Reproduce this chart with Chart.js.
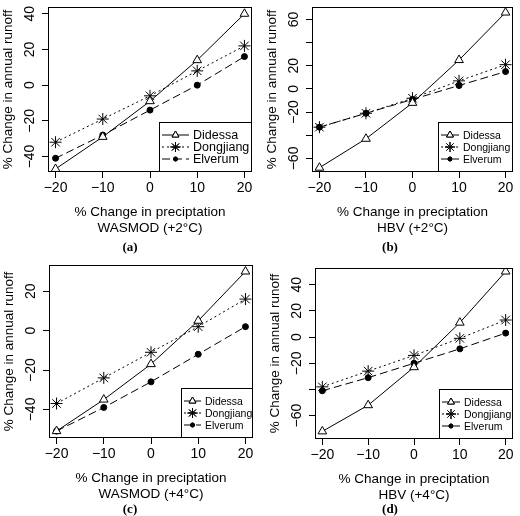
<!DOCTYPE html>
<html><head><meta charset="utf-8">
<script src="https://cdn.jsdelivr.net/npm/chart.js@4"></script>
<style>
body{margin:0;background:#fff;width:520px;height:516px;position:relative;overflow:hidden}
.p{position:absolute;width:260px;height:258px}
.lab{position:absolute;width:260px;text-align:center;font:bold 13px "Liberation Serif",serif}
</style></head><body>
<div class="p" style="left:0;top:0"><canvas id="ca" width="260" height="258"></canvas></div>
<div class="p" style="left:260px;top:0"><canvas id="cb" width="260" height="258"></canvas></div>
<div class="p" style="left:0;top:258px"><canvas id="cc" width="260" height="258"></canvas></div>
<div class="p" style="left:260px;top:258px"><canvas id="cd" width="260" height="258"></canvas></div>
<div class="lab" style="left:0;top:239px">(a)</div>
<div class="lab" style="left:260px;top:239px">(b)</div>
<div class="lab" style="left:0;top:501px">(c)</div>
<div class="lab" style="left:260px;top:501px">(d)</div>
<script>
const precip = [-20, -10, 0, 10, 20];
const seriesNames = ["Didessa", "Dongjiang", "Elverum"];
// (a) WASMOD +2°C
const didessaA = [-47, -29, -9, 14, 40];
const dongjiangA = [-32, -19, -6, 8, 22];
const elverumA = [-41, -28, -14, 0, 16];
// (b) HBV +2°C
const didessaB = [-68, -43, -12, 25, 66];
const dongjiangB = [-33, -21, -8, 7, 21];
const elverumB = [-33, -21, -9, 3, 15];
// (c) WASMOD +4°C
const didessaC = [-51, -35, -17, 5, 30];
const dongjiangC = [-37, -24, -11, 2, 16];
const elverumC = [-51, -39, -26, -12, 2];
// (d) HBV +4°C
const didessaD = [-72, -52, -23, 11, 50];
const dongjiangD = [-38, -26, -14, -1, 13];
const elverumD = [-41, -31, -20, -9, 3];
const yTicksA = [-40, -20, 0, 20, 40], yLabelsA = [-40, -20, 0, 20, 40];
const yTicksB = [-60, -40, -20, 0, 20, 40, 60], yLabelsB = [-60, -20, 0, 20, 60];
const yTicksC = [-40, -20, 0, 20], yLabelsC = [-40, -20, 0, 20];
const yTicksD = [-60, -40, -20, 0, 20, 40], yLabelsD = [-60, -20, 0, 20, 40];
const xTitle = "% Change in preciptation";
const yTitle = "% Change in annual runoff";

const F = '"Liberation Sans", Arial, sans-serif';
function make(id, d, cfg) {
  const styles = [
    {pointStyle: 'triangle', dash: [], r: 5, fill: '#fff'},
    {pointStyle: 'star', dash: [2, 3], r: 6, fill: '#fff'},
    {pointStyle: 'circle', dash: [8, 4], r: 3, fill: '#000'}
  ];
  const ds = d.map((vals, i) => ({
    label: seriesNames[i],
    data: precip.map((x, j) => ({x, y: vals[j]})),
    borderColor: '#000', borderWidth: 1, borderDash: styles[i].dash,
    pointStyle: styles[i].pointStyle, pointRadius: styles[i].r,
    pointBackgroundColor: styles[i].fill, pointBorderColor: '#000', pointBorderWidth: 1
  }));
  const plug = {
    id: 'r' + id,
    afterDraw(ch) {
      const c = ch.ctx, a = ch.chartArea, ys = ch.scales.y, xs = ch.scales.x;
      c.save();
      c.strokeStyle = '#000'; c.lineWidth = 1; c.setLineDash([]);
      c.strokeRect(a.left + .5, a.top + .5, a.right - a.left - 1, a.bottom - a.top - 1);
      c.fillStyle = '#000';
      c.font = '14px ' + F; c.textAlign = 'center'; c.textBaseline = 'middle';
      precip.forEach(v => c.fillText(v === 0 ? '0' : String(v).replace('-', '\u2212'), xs.getPixelForValue(v), a.bottom + 16));
      cfg.yl.forEach(v => {
        c.save(); c.translate(a.left - 18, ys.getPixelForValue(v)); c.rotate(-Math.PI / 2);
        c.fillText(String(v).replace('-', '\u2212'), 0, 0); c.restore();
      });
      c.font = '13.5px ' + F;
      c.fillText(xTitle, (a.left + a.right) / 2, a.bottom + 40);
      c.fillText(cfg.sub, (a.left + a.right) / 2, a.bottom + 56);
      c.save(); c.translate(a.left - 40, (a.top + a.bottom) / 2); c.rotate(-Math.PI / 2);
      c.fillText(yTitle, 0, 0); c.restore();
      // legend
      const lw = cfg.lw, lh = 50, lx = a.right - lw, ly = a.bottom - lh;
      c.fillStyle = '#fff'; c.fillRect(lx, ly, lw, lh);
      c.strokeRect(lx + .5, ly + .5, lw - 1, lh - 1);
      c.font = cfg.lf + 'px ' + F; c.textAlign = 'left';
      seriesNames.forEach((n, i) => {
        const yy = ly + 13 + i * 12;
        c.setLineDash(styles[i].dash); c.beginPath(); c.moveTo(lx + 3, yy); c.lineTo(lx + cfg.ll, yy); c.stroke();
        c.setLineDash([]);
        Chart.helpers.drawPoint(c, {pointStyle: styles[i].pointStyle, radius: styles[i].r - 1, rotation: 0, borderWidth: 1}, lx + 3 + (cfg.ll - 3) / 2, yy);
        c.fillStyle = styles[i].fill; c.fill(); c.stroke();
        c.fillStyle = '#000'; c.fillText(n, lx + cfg.ll + 4, yy + 1);
      });
      c.restore();
    }
  };
  new Chart(document.getElementById(id), {
    type: 'line', data: {datasets: ds},
    options: {
      responsive: false, animation: false, events: [],
      layout: {padding: {top: cfg.top, right: cfg.right, left: 0, bottom: 0}},
      plugins: {legend: {display: false}, tooltip: {enabled: false}},
      scales: {
        x: {type: 'linear', min: -21.6, max: 21.6,
          afterBuildTicks: s => { s.ticks = precip.map(v => ({value: v})); },
          afterFit: s => { s.height = cfg.xh; },
          ticks: {display: false}, border: {display: false},
          grid: {drawOnChartArea: false, drawTicks: true, tickLength: 6, color: '#000'}},
        y: {type: 'linear', min: cfg.ymin, max: cfg.ymax,
          afterBuildTicks: s => { s.ticks = cfg.yt.map(v => ({value: v})); },
          afterFit: s => { s.width = cfg.yw; },
          ticks: {display: false}, border: {display: false},
          grid: {drawOnChartArea: false, drawTicks: true, tickLength: 6, color: '#000'}}
      }
    },
    plugins: [plug]
  });
}
make('ca', [didessaA, dongjiangA, elverumA], {ymin: -48.7, ymax: 43.8, yt: yTicksA, yl: yLabelsA, sub: 'WASMOD (+2°C)', top: 2, right: 8, yw: 48, xh: 86, lw: 93, lf: 12.5, ll: 30});
make('cb', [didessaB, dongjiangB, elverumB], {ymin: -71.7, ymax: 70.8, yt: yTicksB, yl: yLabelsB, sub: 'HBV (+2°C)', top: 2, right: 2, yw: 52, xh: 86, lw: 75, lf: 10.5, ll: 21});
make('cc', [didessaC, dongjiangC, elverumC], {ymin: -54.5, ymax: 33.3, yt: yTicksC, yl: yLabelsC, sub: 'WASMOD (+4°C)', top: 6, right: 7, yw: 49, xh: 78, lw: 72, lf: 10.5, ll: 20});
make('cd', [didessaD, dongjiangD, elverumD], {ymin: -77.8, ymax: 52.7, yt: yTicksD, yl: yLabelsD, sub: 'HBV (+4°C)', top: 10, right: 2, yw: 55, xh: 77, lw: 74, lf: 10.5, ll: 21});
</script></body></html>
